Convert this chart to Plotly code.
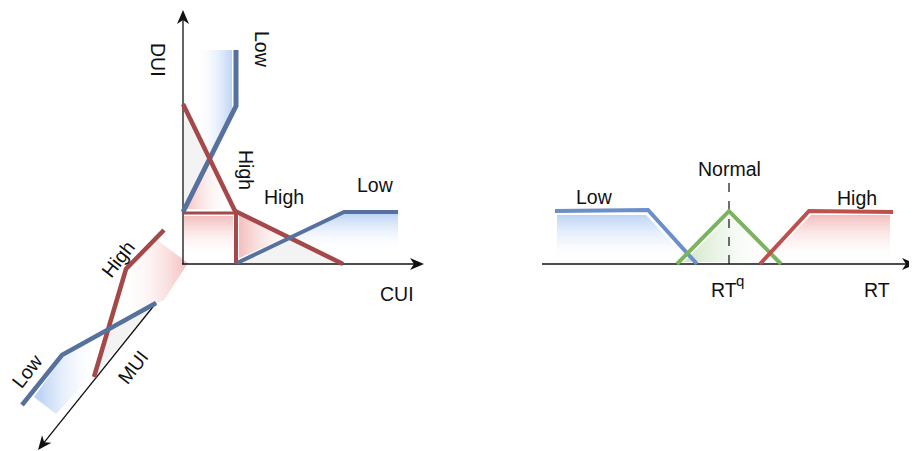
import plotly.graph_objects as go

W, H = 917, 451
PAGE_MARGIN = 8  # browser default body margin
FONT = "Liberation Sans, Arial, sans-serif"

# ---- colours ----
BLUE_L = "#56719e"
RED_L = "#a5484a"
BLUE_R = "#6b8fca"
RED_R = "#c0504d"
GREEN = "#7bb45e"

# ---- left panel: axes (tail -> head) ----
axes_left = {
    "DUI": ((183, 264), (183, 10)),
    "CUI": ((182, 264), (424, 264)),
    "MUI": ((156, 303), (38, 450)),
}

# ---- left panel membership lines ----
dui_low_x = [236, 236, 183]
dui_low_y = [50, 106, 212]
dui_high_x = [183, 235]
dui_high_y = [104, 211]
dui_high_floor_x = [183, 235]
dui_high_floor_y = [213, 213]
cui_high_drop_x = [236, 236]
cui_high_drop_y = [211, 264]
cui_high_x = [235, 343]
cui_high_y = [211, 264]
cui_low_x = [237, 344, 398]
cui_low_y = [263, 212, 212]
mui_high_x = [164, 126, 94]
mui_high_y = [230, 269, 377]
mui_low_x = [156, 62, 22]
mui_low_y = [303, 355, 405]

# ---- left panel filled regions ----
grey_dui_x = [184, 210, 184]
grey_dui_y = [106, 160, 209]
grey_cui_x = [240, 290, 342]
grey_cui_y = [263, 238, 263]
grey_mui_x = [107, 153, 96]
grey_mui_y = [330, 306, 374]
blue_dui_x = [196, 232, 232, 212, 196]
blue_dui_y = [50, 50, 108, 156, 130]
blue_cui_x = [292, 343, 398, 398, 343]
blue_cui_y = [237, 214, 214, 250, 250]
blue_mui_x = [34, 62, 105, 93, 56]
blue_mui_y = [397, 358, 331, 374, 414]
red_tri_x = [184, 210, 232]
red_tri_y = [209, 161, 210]
red_rect_x = [184, 233, 233, 184]
red_rect_y = [216, 216, 256, 256]
red_right_x = [239, 288, 239]
red_right_y = [214, 237, 258]
red_mui_x = [128, 157, 188, 164, 109]
red_mui_y = [270, 240, 263, 300, 326]

# ---- right panel ----
rt_axis = ((542, 264), (916, 264))
rt_low_x = [555, 648, 697]
rt_low_y = [211, 210, 264]
rt_normal_x = [677, 729, 781]
rt_normal_y = [264, 211, 264]
rt_high_x = [760, 809, 893]
rt_high_y = [264, 211, 212]
normal_dash_x = [729, 729]
normal_dash_y = [183, 264]
fill_low_x = [557, 646, 690, 557]
fill_low_y = [215, 215, 262, 262]
fill_normal_x = [684, 729, 776]
fill_normal_y = [262, 216, 262]
fill_high_x = [766, 811, 890, 890]
fill_high_y = [262, 215, 215, 262]

# ---- labels: (text, x, y, angle, size) ----
labels = [
    ("DUI", 158, 60, 90, 19.5),
    ("Low", 262, 49, 90, 19.5),
    ("High", 246, 170, 90, 19.5),
    ("High", 284, 197, 0, 19.5),
    ("Low", 375, 185, 0, 19.5),
    ("CUI", 397, 294, 0, 19.5),
    ("High", 118, 259, -52, 19.5),
    ("Low", 27, 371, -52, 19.5),
    ("MUI", 133, 367, -52, 19.5),
    ("Normal", 729, 169, 0, 19.5),
    ("Low", 594, 197, 0, 19.5),
    ("High", 857, 198, 0, 19.5),
    ("RT", 724, 290, 0, 19.5),
    ("q", 740, 280, 0, 15),
    ("RT", 877, 290, 0, 19.5),
]

fig = go.Figure()


def poly(x, y, grad_type, c0, c1, start=None, stop=None):
    fg = dict(type=grad_type, colorscale=[[0, c0], [1, c1]])
    if start is not None:
        fg["start"] = start
        fg["stop"] = stop
    fig.add_trace(go.Scatter(x=x + [x[0]], y=y + [y[0]], mode="lines",
                             line=dict(width=0), fill="toself",
                             fillgradient=fg, hoverinfo="skip"))


def solid(x, y, color):
    fig.add_trace(go.Scatter(x=x + [x[0]], y=y + [y[0]], mode="lines",
                             line=dict(width=0), fill="toself",
                             fillcolor=color, hoverinfo="skip"))


def line(x, y, color, width, dash=None):
    fig.add_trace(go.Scatter(x=x, y=y, mode="lines",
                             line=dict(color=color, width=width, dash=dash),
                             hoverinfo="skip"))


WHITE = "rgba(255,255,255,0)"
LBLUE = "rgba(190,212,245,1)"
LRED = "rgba(244,190,190,1)"
LGREEN = "rgba(205,228,195,1)"
GREY = "#f3f3f3"

# fills left
solid(grey_dui_x, grey_dui_y, GREY)
solid(grey_cui_x, grey_cui_y, GREY)
solid(grey_mui_x, grey_mui_y, GREY)
poly(blue_dui_x, blue_dui_y, "horizontal", WHITE, LBLUE, 196, 232)
poly(blue_cui_x, blue_cui_y, "vertical", LBLUE, WHITE, 214, 252)
poly(blue_mui_x, blue_mui_y, "horizontal", LBLUE, WHITE, 40, 100)
poly(red_tri_x, red_tri_y, "horizontal", LRED, WHITE, 184, 232)
poly(red_rect_x, red_rect_y, "vertical", LRED, WHITE, 216, 258)
poly(red_right_x, red_right_y, "horizontal", LRED, WHITE, 239, 300)
poly(red_mui_x, red_mui_y, "horizontal", WHITE, LRED, 120, 188)

# fills right
poly(fill_low_x, fill_low_y, "vertical", LBLUE, WHITE, 215, 262)
poly(fill_normal_x, fill_normal_y, "horizontal", LGREEN, WHITE, 684, 776)
poly(fill_high_x, fill_high_y, "vertical", LRED, WHITE, 215, 262)

# axis lines (stop short of the tip; arrowhead covers the rest)
all_axes = list(axes_left.values()) + [rt_axis]
for (t, h) in all_axes:
    dx, dy = h[0] - t[0], h[1] - t[1]
    n = (dx * dx + dy * dy) ** 0.5
    ux, uy = dx / n, dy / n
    line([t[0], h[0] - ux * 6], [t[1], h[1] - uy * 6], "#111111", 1.3)
    # filled, notched arrowhead derived from the axis direction
    L, hw, notch = 14, 6, 4
    px, py = -uy, ux
    bx, by = h[0] - ux * L, h[1] - uy * L
    ax_ = [h[0], bx + px * hw, h[0] - ux * (L - notch), bx - px * hw]
    ay_ = [h[1], by + py * hw, h[1] - uy * (L - notch), by - py * hw]
    solid(ax_, ay_, "#111111")

# membership lines left
line(dui_high_floor_x, dui_high_floor_y, RED_L, 3)
line(cui_high_drop_x, cui_high_drop_y, RED_L, 4)
line(dui_low_x, dui_low_y, BLUE_L, 5)
line(dui_high_x, dui_high_y, RED_L, 4.5)
line(cui_high_x, cui_high_y, RED_L, 4.5)
line(cui_low_x, cui_low_y, BLUE_L, 4)
line(mui_high_x, mui_high_y, RED_L, 4.5)
line(mui_low_x, mui_low_y, BLUE_L, 4.5)

# right lines
line(normal_dash_x, normal_dash_y, "#111111", 1.2, "dash")
line(rt_low_x, rt_low_y, BLUE_R, 4)
line(rt_normal_x, rt_normal_y, GREEN, 4)
line(rt_high_x, rt_high_y, RED_R, 4)

for txt, x, y, ang, sz in labels:
    fig.add_annotation(x=x, y=y, xref="x", yref="y", text=txt, showarrow=False,
                       textangle=ang, font=dict(family=FONT, size=sz, color="#111111"))

fig.update_layout(
    width=W - PAGE_MARGIN, height=H - PAGE_MARGIN,
    margin=dict(l=0, r=0, t=0, b=0, pad=0),
    paper_bgcolor="white", plot_bgcolor="white", showlegend=False,
    xaxis=dict(range=[PAGE_MARGIN, W], visible=False, fixedrange=True),
    yaxis=dict(range=[H, PAGE_MARGIN], visible=False, fixedrange=True),
)
fig.write_html("out.html")
